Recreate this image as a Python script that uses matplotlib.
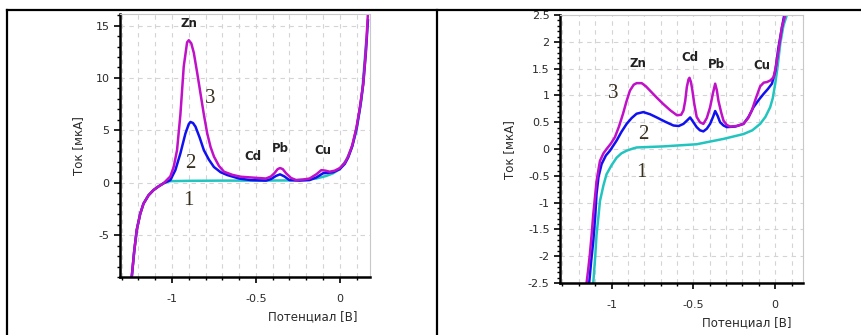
import matplotlib
matplotlib.use('Agg')
import matplotlib.pyplot as plt
from matplotlib.lines import Line2D
from matplotlib.ticker import MultipleLocator

# ---- left panel data (potential V, current uA) ----
left_x1 = [-1.24, -1.225, -1.21, -1.19, -1.17, -1.14, -1.11, -1.08, -1.05, -1.03, -1.01, -0.9, -0.7, -0.5,
           -0.3, -0.2, -0.14, -0.08, -0.04, 0.0, 0.04, 0.07, 0.10, 0.13, 0.158]
left_y1 = [-9.0, -6.5, -4.5, -3.0, -2.0, -1.2, -0.7, -0.35, -0.05, 0.08, 0.15, 0.18, 0.2, 0.2,
           0.22, 0.3, 0.4, 0.65, 0.9, 1.3, 2.2, 3.3, 5.0, 8.0, 13.6]

left_x2 = [-1.24, -1.225, -1.21, -1.19, -1.17, -1.14, -1.11, -1.08, -1.05, -1.01, -0.98, -0.95, -0.92, -0.90,
           -0.89, -0.875, -0.86, -0.835, -0.81, -0.78, -0.75, -0.71, -0.67, -0.6, -0.53, -0.44, -0.41,
           -0.38, -0.356, -0.33, -0.3, -0.24, -0.18, -0.14, -0.10, -0.07, -0.04, 0.0, 0.03, 0.05, 0.075,
           0.10, 0.12, 0.14, 0.155, 0.168]
left_y2 = [-9.0, -6.5, -4.5, -3.0, -2.0, -1.2, -0.7, -0.35, -0.05, 0.25, 1.2, 2.8, 4.7, 5.6,
           5.8, 5.7, 5.35, 4.3, 3.1, 2.2, 1.5, 1.0, 0.73, 0.4, 0.25, 0.2, 0.35,
           0.65, 0.8, 0.6, 0.25, 0.2, 0.25, 0.5, 0.9, 0.95, 1.0, 1.3, 1.8, 2.4, 3.5,
           5.2, 7.1, 9.4, 12.3, 15.5]

left_x3 = [-1.24, -1.225, -1.21, -1.19, -1.17, -1.14, -1.11, -1.08, -1.05, -1.01, -0.99, -0.97, -0.95, -0.93,
           -0.91, -0.90, -0.885, -0.87, -0.85, -0.83, -0.81, -0.79, -0.77, -0.75, -0.72, -0.69, -0.64,
           -0.59, -0.44, -0.41, -0.39, -0.37, -0.356, -0.34, -0.32, -0.29, -0.26, -0.22, -0.18, -0.14,
           -0.11, -0.085, -0.06, -0.03, 0.0, 0.03, 0.05, 0.075, 0.10, 0.12, 0.14, 0.155, 0.168]
left_y3 = [-9.0, -6.5, -4.5, -3.0, -2.0, -1.2, -0.7, -0.35, -0.05, 0.6, 1.5, 3.1, 6.5, 11.1,
           13.4, 13.6, 13.3, 12.4, 10.5, 8.5, 6.5, 4.7, 3.4, 2.5, 1.6, 1.05, 0.75,
           0.57, 0.4, 0.6, 0.9, 1.3, 1.4, 1.3, 0.9, 0.45, 0.25, 0.3, 0.4, 0.8,
           1.2, 1.15, 1.05, 1.15, 1.4, 1.9, 2.5, 3.6, 5.3, 7.2, 9.5, 12.5, 16.2]

# ---- right panel data ----
right_x1 = [-1.112, -1.10, -1.092, -1.08, -1.071, -1.05, -1.031, -1.0, -0.969, -0.94, -0.908, -0.87, -0.847,
            -0.684, -0.48, -0.316, -0.194, -0.14, -0.092, -0.06, -0.031, -0.015, 0.0, 0.015, 0.031, 0.05,
            0.071]
right_y1 = [-2.5, -2.0, -1.6, -1.25, -0.97, -0.68, -0.47, -0.3, -0.16, -0.08, -0.03, 0.01, 0.03,
            0.05, 0.09, 0.19, 0.28, 0.35, 0.47, 0.6, 0.78, 0.95, 1.22, 1.55, 1.97, 2.3,
            2.5]

right_x2 = [-1.137, -1.125, -1.112, -1.10, -1.092, -1.08, -1.061, -1.035, -1.01, -0.969, -0.94, -0.908,
            -0.877, -0.847, -0.806, -0.765, -0.724, -0.672, -0.622, -0.59, -0.561, -0.54, -0.52, -0.5,
            -0.48, -0.46, -0.439, -0.418, -0.398, -0.38, -0.367, -0.352, -0.337, -0.316, -0.296, -0.245,
            -0.194, -0.163, -0.133, -0.1, -0.071, -0.045, -0.02, 0.0, 0.02, 0.04, 0.055]
right_y2 = [-2.5, -2.1, -1.72, -1.25, -0.84, -0.52, -0.28, -0.12, -0.03, 0.16, 0.32, 0.47,
            0.58, 0.66, 0.69, 0.65, 0.59, 0.51, 0.44, 0.43, 0.47, 0.53, 0.59, 0.5,
            0.41, 0.35, 0.33, 0.38, 0.47, 0.6, 0.71, 0.62, 0.5, 0.44, 0.41, 0.42,
            0.47, 0.6, 0.78, 0.92, 1.03, 1.12, 1.22, 1.45, 1.9, 2.25, 2.5]

right_x3 = [-1.153, -1.143, -1.133, -1.122, -1.112, -1.10, -1.092, -1.08, -1.071, -1.05, -1.031, -1.005,
            -0.98, -0.955, -0.93, -0.91, -0.888, -0.865, -0.847, -0.816, -0.79, -0.765, -0.724, -0.684,
            -0.64, -0.60, -0.575, -0.561, -0.55, -0.54, -0.53, -0.524, -0.515, -0.506, -0.495, -0.48,
            -0.46, -0.439, -0.418, -0.398, -0.38, -0.367, -0.357, -0.347, -0.33, -0.316, -0.296, -0.276,
            -0.235, -0.194, -0.165, -0.143, -0.118, -0.092, -0.07, -0.051, -0.03, -0.01, 0.005, 0.02,
            0.041, 0.061]
right_y3 = [-2.5, -2.25, -1.97, -1.6, -1.22, -0.85, -0.6, -0.38, -0.22, -0.08, 0.0, 0.1,
            0.22, 0.42, 0.66, 0.88, 1.09, 1.2, 1.23, 1.23, 1.17, 1.09, 0.96, 0.84,
            0.72, 0.63, 0.64, 0.72, 0.9, 1.16, 1.3, 1.33, 1.25, 1.09, 0.85, 0.6,
            0.5, 0.47, 0.58, 0.78, 1.05, 1.22, 1.1, 0.9, 0.68, 0.53, 0.45, 0.42,
            0.43, 0.47, 0.58, 0.72, 0.95, 1.17, 1.24, 1.25, 1.28, 1.34, 1.55, 1.84,
            2.28, 2.5]

elements = ['Zn', 'Cd', 'Pb', 'Cu']
left_el_pos = [(-0.90, 15.2), (-0.515, 2.5), (-0.356, 3.3), (-0.103, 3.05)]
right_el_pos = [(-0.837, 1.6), (-0.52, 1.7), (-0.357, 1.58), (-0.082, 1.56)]
curve_names = ['1', '2', '3']
left_num_pos = [(-0.90, -1.65), (-0.89, 1.85), (-0.77, 8.0)]
right_num_pos = [(-0.816, -0.44), (-0.806, 0.28), (-0.99, 1.03)]

colors = ['#22c4c0', '#1010f0', '#c010c8']
txt_col = '#2a2a2a'

fig = plt.figure(figsize=(8.62, 3.35), dpi=100)


def setup(ax, xlim, ylim, ymaj, ymin):
    ax.set_xlim(*xlim)
    ax.set_ylim(*ylim)
    ax.xaxis.set_major_locator(MultipleLocator(0.5))
    ax.xaxis.set_minor_locator(MultipleLocator(0.1))
    ax.yaxis.set_major_locator(MultipleLocator(ymaj))
    ax.yaxis.set_minor_locator(MultipleLocator(ymin))
    ax.grid(True, which='both', axis='x', ls=(0, (4, 4)), color='#d4d4d4', lw=0.8)
    ax.grid(True, which='major', axis='y', ls=(0, (4, 4)), color='#d4d4d4', lw=0.8)
    for s in ['left', 'bottom']:
        ax.spines[s].set_linewidth(1.8)
        ax.spines[s].set_color('black')
    for s in ['top', 'right']:
        ax.spines[s].set_linewidth(0.8)
        ax.spines[s].set_color('#c8c8c8')
    ax.tick_params(which='major', length=4, width=1.2, labelsize=8, colors='black', labelcolor=txt_col)
    ax.tick_params(which='minor', length=2.5, width=1.0, colors='black')
    ax.tick_params(axis='x', pad=8)
    ax.set_axisbelow(True)


def fmt(v, pos):
    return '%g' % v


ax1 = fig.add_axes([0.1392, 0.1731, 0.29, 0.785])
setup(ax1, (-1.31, 0.18), (-9.0, 16.1), 5, 1)
ax1.yaxis.set_major_formatter(plt.FuncFormatter(fmt))
ax1.xaxis.set_major_formatter(plt.FuncFormatter(fmt))
ax1.plot(left_x1, left_y1, color=colors[0], lw=1.8)
ax1.plot(left_x2, left_y2, color=colors[1], lw=1.8)
ax1.plot(left_x3, left_y3, color=colors[2], lw=1.8)
for name, (x, y) in zip(elements, left_el_pos):
    ax1.text(x, y, name, ha='center', va='center', fontsize=8.5, fontweight='bold', color='#222')
for name, (x, y) in zip(curve_names, left_num_pos):
    ax1.text(x, y, name, ha='center', va='center', fontsize=15, family='Liberation Serif', color='#3a3020')

ax2 = fig.add_axes([0.6497, 0.155, 0.2819, 0.80])
setup(ax2, (-1.315, 0.17), (-2.5, 2.5), 0.5, 0.1)
ax2.yaxis.set_major_formatter(plt.FuncFormatter(fmt))
ax2.xaxis.set_major_formatter(plt.FuncFormatter(fmt))
ax2.plot(right_x1, right_y1, color=colors[0], lw=1.8)
ax2.plot(right_x2, right_y2, color=colors[1], lw=1.8)
ax2.plot(right_x3, right_y3, color=colors[2], lw=1.8)
for name, (x, y) in zip(elements, right_el_pos):
    ax2.text(x, y, name, ha='center', va='center', fontsize=8.5, fontweight='bold', color='#222')
for name, (x, y) in zip(curve_names, right_num_pos):
    ax2.text(x, y, name, ha='center', va='center', fontsize=15, family='Liberation Serif', color='#3a3020')

# axis labels
for ax in (ax1, ax2):
    ax.set_ylabel('Ток [мкА]', fontsize=8.5, color=txt_col)
    ax.set_xlabel('Потенциал [В]', fontsize=8.5, color=txt_col)
ax1.yaxis.set_label_coords(-0.14, 0.5)
ax2.yaxis.set_label_coords(-0.18, 0.5)
ax1.xaxis.set_label_coords(0.77, -0.125)
ax2.xaxis.set_label_coords(0.77, -0.125)

# table frame lines
fig.add_artist(Line2D([7 / 862, 1.0], [1 - 10 / 335, 1 - 10 / 335], color='black', lw=1.6))
fig.add_artist(Line2D([7 / 862, 7 / 862], [0, 1 - 10 / 335], color='black', lw=1.6))
fig.add_artist(Line2D([437 / 862, 437 / 862], [0, 1 - 10 / 335], color='black', lw=1.6))

fig.savefig('out.png', dpi=100)
